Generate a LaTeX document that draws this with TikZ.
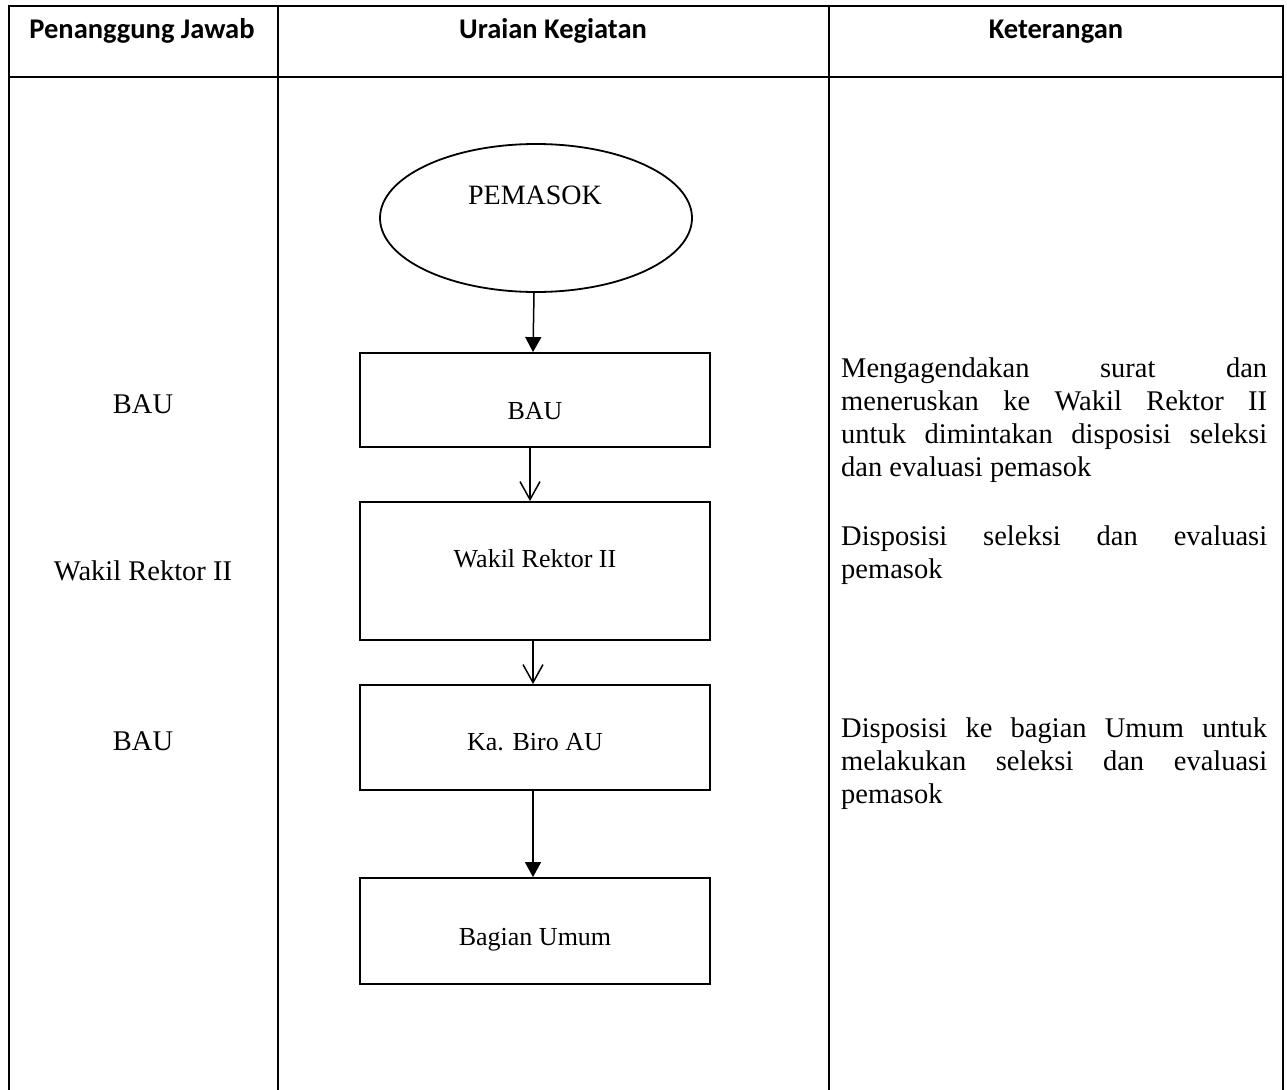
\documentclass[tikz,border=0pt]{standalone}
\usepackage{fontspec}
\setmainfont{Liberation Serif}
\newfontfamily\headfont{Carlito}
\usetikzlibrary{arrows.meta,shapes.geometric}
\begin{document}
\begin{tikzpicture}[x=1pt,y=-1pt,
  gridline/.style={line width=2.4pt,line cap=rect},
  headtext/.style={anchor=base,inner sep=0pt,font=\headfont\bfseries\fontsize{28.5}{33}\selectfont},
  coltext/.style={anchor=base,inner sep=0pt,font=\fontsize{28.5}{33}\selectfont},
  boxtext/.style={anchor=base,inner sep=0pt,font=\fontsize{26}{31}\selectfont},
  procbox/.style={draw,line width=1.8pt,rectangle,inner sep=0pt,minimum width=350pt},
  startshape/.style={draw,line width=1.8pt,ellipse,inner sep=0pt,minimum width=312pt,minimum height=148pt},
  note/.style={anchor=north west,inner sep=0pt,text width=426pt,align=justify,
    font=\fontsize{28.5}{33}\selectfont},
  solidflow/.style={line width=1.5pt,-{Triangle[length=15pt,width=16pt]}},
  openflow/.style={line width=1.5pt,-{Straight Barb[length=18pt,width=20pt,line width=1.5pt]}},
]
\useasboundingbox (0,0) rectangle (1287,1089);

% table frame
\draw[gridline] (9,6) -- (1283,6);
\draw[gridline] (9,77) -- (1283,77);
\foreach \xx in {9,278,829,1283} \draw[gridline] (\xx,6) -- (\xx,1092);

% column headings
\node[headtext] (h1) at (142,39) {Penanggung Jawab};
\node[headtext] (h2) at (553,39) {Uraian Kegiatan};
\node[headtext] (h3) at (1056,39) {Keterangan};

% responsible parties
\node[coltext] (p1) at (143,413) {BAU};
\node[coltext] (p2) at (143,580) {Wakil Rektor II};
\node[coltext] (p3) at (143,750) {BAU};

% flow shapes
\node[startshape] (pemasok) at (536,218) {};
\node[procbox,minimum height=94pt] (bau) at (535,400) {};
\node[procbox,minimum height=138pt] (wakil) at (535,571) {};
\node[procbox,minimum height=105pt] (biro) at (535,737.5) {};
\node[procbox,minimum height=106pt] (umum) at (535,931) {};

\node[anchor=base,inner sep=0pt,font=\fontsize{28}{33}\selectfont] (tpemasok) at (535,204) {PEMASOK};
\node[boxtext] (tbau) at (535,419) {BAU};
\node[boxtext] (twakil) at (535,567) {Wakil Rektor II};
\node[boxtext] (tbiro) at (535,750) {Ka. Biro AU};
\node[boxtext] (tumum) at (535,945) {Bagian Umum};

% connectors
\draw[solidflow] ([xshift=-2pt]pemasok.south) -- ([xshift=-2pt]bau.north);
\draw[openflow] ([xshift=-5pt]bau.south) -- ([xshift=-5pt]wakil.north);
\draw[openflow] ([xshift=-2pt]wakil.south) -- ([xshift=-2pt]biro.north);
\draw[solidflow] ([xshift=-2pt]biro.south) -- ([xshift=-2pt]umum.north);

% remarks
\node[note] (k1) at (841,357) {\rule{0pt}{20pt}Mengagendakan surat dan\linebreak
  meneruskan ke Wakil Rektor II\linebreak
  untuk dimintakan disposisi seleksi\linebreak
  dan evaluasi pemasok};
\node[note] (k2) at (841,525) {\rule{0pt}{20pt}Disposisi seleksi dan evaluasi\linebreak
  pemasok};
\node[note] (k3) at (841,717) {\rule{0pt}{20pt}Disposisi ke bagian Umum untuk\linebreak
  melakukan seleksi dan evaluasi\linebreak
  pemasok};
\end{tikzpicture}
\end{document}
